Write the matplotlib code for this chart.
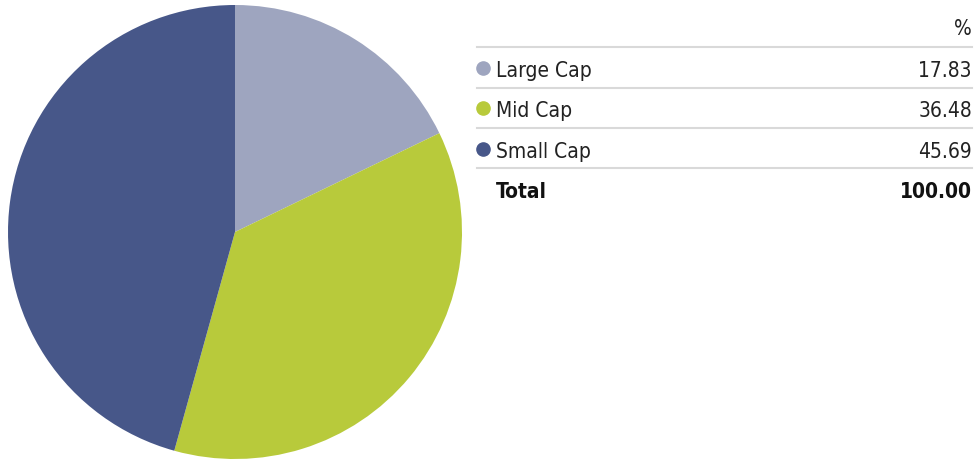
import matplotlib.pyplot as plt
from matplotlib.lines import Line2D

categories = ["Large Cap", "Mid Cap", "Small Cap"]
values = [17.83, 36.48, 45.69]
colors = ["#9ea5bf", "#b8ca3b", "#475789"]
total_label = "Total"
total_value = "100.00"

W, H = 979, 460
fig = plt.figure(figsize=(W / 100, H / 100), dpi=100)

# narrow font, closest installed thing to the reference
font = {"family": "DejaVu Sans", "stretch": "condensed", "fontsize": 15}

##### Pie #####
cx, cy, r = 235, 233, 227
ax = fig.add_axes([(cx - r) / W, (H - cy - r) / H, 2 * r / W, 2 * r / H])
ax.pie(values, colors=colors, startangle=90, counterclock=False,
       radius=1, wedgeprops={"linewidth": 0})
ax.set_xlim(-1, 1)
ax.set_ylim(-1, 1)
ax.set_aspect("equal")
ax.axis("off")

##### Table #####
def fx(x):
    return x / W

def fy(y):
    return 1 - y / H

x0, x1 = 477, 972
fig.text(fx(x1), fy(35), "%", ha="right", va="baseline", color="#222222", **font)

line_ys = [48, 89, 129, 169]
for y in line_ys:
    fig.add_artist(Line2D([fx(x0), fx(x1)], [fy(y), fy(y)], color="#d9d9d9",
                          lw=1.5, transform=fig.transFigure))

row_h = 40.3
for i, (cat, val, col) in enumerate(zip(categories, values, colors)):
    base = 77 + i * row_h
    fig.add_artist(Line2D([fx(483.5)], [fy(base - 8)], marker="o", markersize=9.5,
                          color=col, lw=0, transform=fig.transFigure))
    fig.text(fx(496), fy(base), cat, ha="left", va="baseline", color="#222222", **font)
    fig.text(fx(x1), fy(base), f"{val:.2f}", ha="right", va="baseline",
             color="#222222", **font)

base = 77 + 3 * row_h
fig.text(fx(496), fy(base), total_label, ha="left", va="baseline",
         weight="bold", color="#111111", **font)
fig.text(fx(x1), fy(base), total_value, ha="right", va="baseline",
         weight="bold", color="#111111", **font)

fig.savefig("out.png", dpi=100)
